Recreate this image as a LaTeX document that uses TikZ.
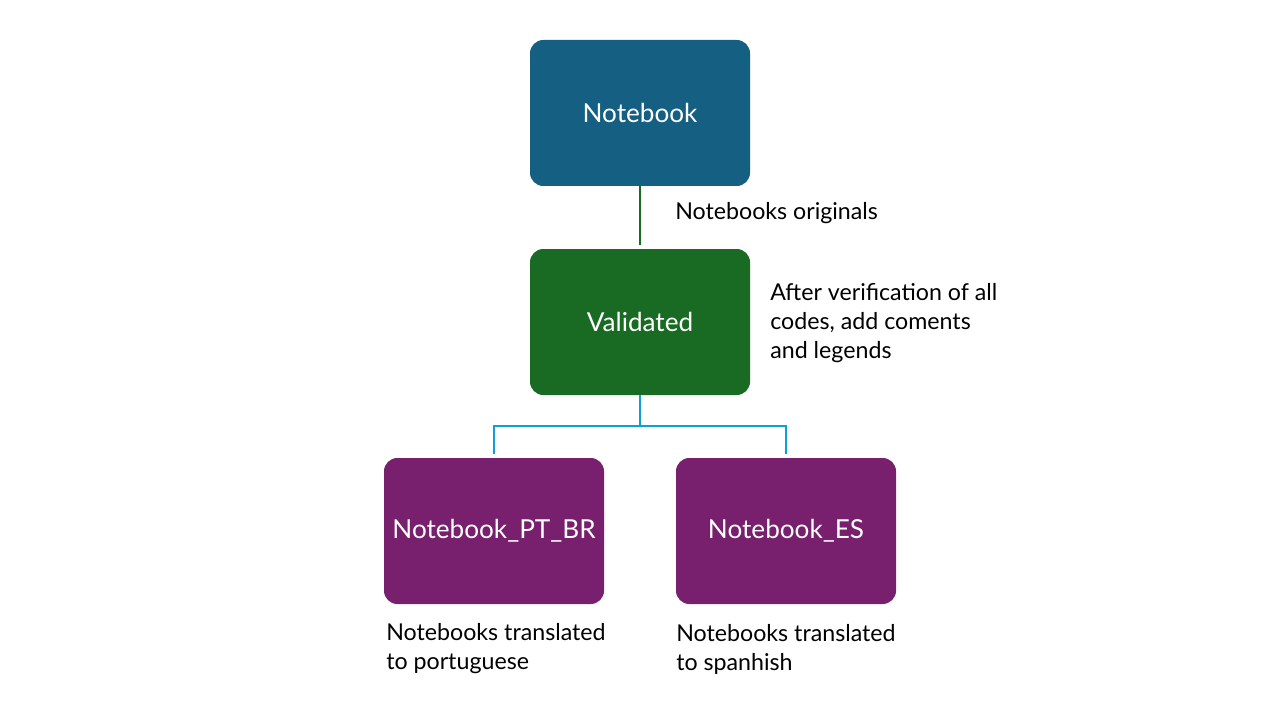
\documentclass[tikz,border=0pt]{standalone}
\usepackage{fontspec}
\setmainfont{Lato}
\definecolor{nbblue}{HTML}{156082}
\definecolor{valgreen}{HTML}{196B24}
\definecolor{trpurple}{HTML}{78206E}
\definecolor{linkblue}{HTML}{0F9ED5}
\begin{document}
\begin{tikzpicture}[x=0.75pt,y=-0.75pt,
  box/.style={rounded corners=10pt, minimum width=165pt, minimum height=109.5pt,
    inner sep=0pt, text=white, font=\fontsize{19.6}{23}\selectfont},
  note/.style={anchor=west, inner sep=0pt, align=left, text=black,
    font=\fontsize{17.4}{21.75}\selectfont},
  link/.style={line width=1.2pt}
]
\useasboundingbox[fill=white] (0,0) rectangle (1280,720);

% process boxes
\node[box, fill=nbblue]   (nb)  at (640,113)   {Notebook};
\node[box, fill=valgreen] (val) at (640,322)   {Validated};
\node[box, fill=trpurple] (pt)  at (494,531)   {Notebook\_PT\_BR};
\node[box, fill=trpurple] (es)  at (786,531)   {Notebook\_ES};

% side notes
\node[note] (n1) at (675,213.5) {Notebooks originals};
\node[note] (n2) at (770,323.5) {After verification of all\\codes, add coments\\and legends};
\node[note] (n3) at (386,649)   {Notebooks translated\\to portuguese};
\node[note] (n4) at (676,649)   {Notebooks translated\\to spanhish};

% connectors
\draw[link, valgreen, shorten >=3pt] (nb.south) -- (val.north);
\draw[link, linkblue] (val.south) -- ++(0,31) coordinate (j);
\draw[link, linkblue, shorten >=3pt] (j) -| (pt.north);
\draw[link, linkblue, shorten >=3pt] (j) -| (es.north);
\end{tikzpicture}
\end{document}
